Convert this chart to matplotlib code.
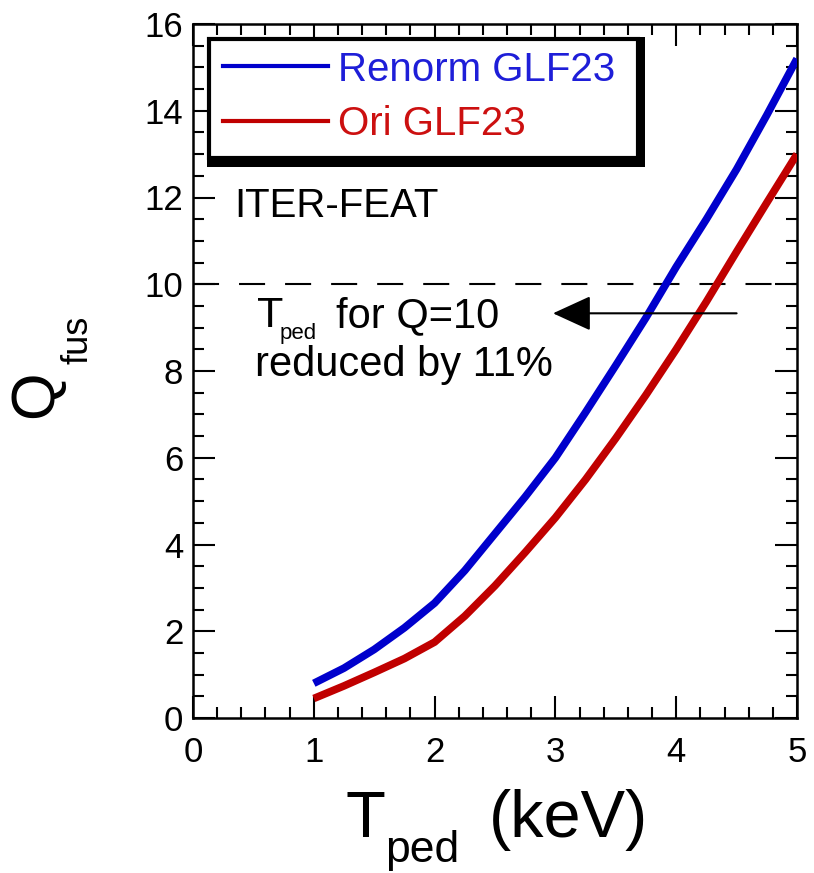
import matplotlib
matplotlib.use('Agg')
import matplotlib.pyplot as plt
from matplotlib.lines import Line2D
from matplotlib.patches import Rectangle
from matplotlib.transforms import IdentityTransform

plt.rcParams['font.family'] = ['Liberation Sans', 'DejaVu Sans']

# ---------- Data ----------
t_ped = [1.0, 1.25, 1.5, 1.75, 2.0, 2.25, 2.5, 2.75, 3.0,
         3.25, 3.5, 3.75, 4.0, 4.25, 4.5, 4.75, 5.0]
q_renorm = [0.80, 1.15, 1.58, 2.08, 2.65, 3.40, 4.25, 5.10, 6.0,
            7.05, 8.13, 9.23, 10.4, 11.5, 12.65, 13.9, 15.2]
q_ori = [0.45, 0.74, 1.05, 1.37, 1.75, 2.35, 3.05, 3.82, 4.62,
         5.5, 6.45, 7.45, 8.5, 9.6, 10.75, 11.88, 13.0]
labels = ['Renorm GLF23', 'Ori GLF23']
colors = ['#0000CC', '#C00000']
text_colors = ['#1E1ED8', '#CC1010']
q_target = 10
arrow_from = 4.5
arrow_to = 2.98
arrow_q = 9.33
x_ticks = [0, 1, 2, 3, 4, 5]
y_ticks = [0, 2, 4, 6, 8, 10, 12, 14, 16]

# ---------- Figure ----------
fig = plt.figure(figsize=(8.14, 8.73), dpi=100)
ax = fig.add_axes([193 / 814, 155 / 873, 604 / 814, 694 / 873])

ax.plot(t_ped, q_renorm, color=colors[0], lw=5.5, solid_capstyle='butt', zorder=3)
ax.plot(t_ped, q_ori, color=colors[1], lw=5.5, solid_capstyle='butt', zorder=3)
ax.axhline(q_target, color='black', lw=1.5, dashes=(12.5, 9.6), zorder=2)

ax.annotate('', xy=(arrow_to, arrow_q), xytext=(arrow_from, arrow_q),
            arrowprops=dict(arrowstyle='-|>,head_length=1.2,head_width=0.55',
                            lw=1.5, color='black', shrinkA=0, shrinkB=0,
                            mutation_scale=20))

# ---------- Axes styling ----------
ax.set_xlim(0, 5)
ax.set_ylim(0, 16)
ax.set_xticks(x_ticks)
ax.set_yticks(y_ticks)
ax.set_xticks([i * 0.2 for i in range(26)], minor=True)
ax.set_yticks([i * 0.5 for i in range(33)], minor=True)
ax.tick_params(which='both', direction='in', top=True, right=True, width=1.5)
ax.tick_params(which='major', length=16)
ax.tick_params(which='minor', length=8)
ax.tick_params(axis='x', which='major', labelsize=25, pad=13)
ax.tick_params(axis='y', which='major', labelsize=25, pad=7)
for sp in ax.spines.values():
    sp.set_linewidth(1.8)

# ---------- Legend box ----------
ax.add_patch(Rectangle((0.0232, 0.7939), 0.7252, 0.1873, transform=ax.transAxes,
                       facecolor='black', edgecolor='black', lw=0, zorder=5.9))
ax.add_patch(Rectangle((0.0273, 0.8069), 0.7094, 0.1715, transform=ax.transAxes,
                       facecolor='white', edgecolor='black', lw=3, zorder=6))
handles = [Line2D([], [], color=c, lw=3) for c in colors]
leg = ax.legend(handles, labels, loc='center left', bbox_to_anchor=(0.0497, 0.8948),
                frameon=False, fontsize=29, handlelength=2.6, handletextpad=0.25,
                labelspacing=0.42, borderpad=0, borderaxespad=0, labelcolor=text_colors)
leg.set_zorder(7)

# ---------- Text ----------
ax.text(0.343, 11.55, 'ITER-FEAT', fontsize=29, va='baseline')
ax.text(0.53, 9.01, 'T', fontsize=31, va='baseline')
ax.text(0.72, 8.74, 'ped', fontsize=16, va='baseline')
ax.text(1.184, 9.01, 'for Q=10', fontsize=30, va='baseline')
ax.text(0.513, 7.89, 'reduced by 11%', fontsize=30, va='baseline')

# x label  T_ped (keV)
px = IdentityTransform()
fig.text(345.5, 36, 'T', fontsize=47, transform=px, va='baseline')
fig.text(385, 11, 'ped', fontsize=32, transform=px, va='baseline')
fig.text(488.5, 36, '(keV)', fontsize=48, transform=px, va='baseline')

# y label  Q_fus
fig.text(52, 455, 'Q', fontsize=44, transform=px, rotation=90,
         rotation_mode='anchor', ha='left', va='baseline')
fig.text(88, 509, 'fus', fontsize=26, transform=px, rotation=90,
         rotation_mode='anchor', ha='left', va='baseline')

fig.savefig('out.png', dpi=100)
